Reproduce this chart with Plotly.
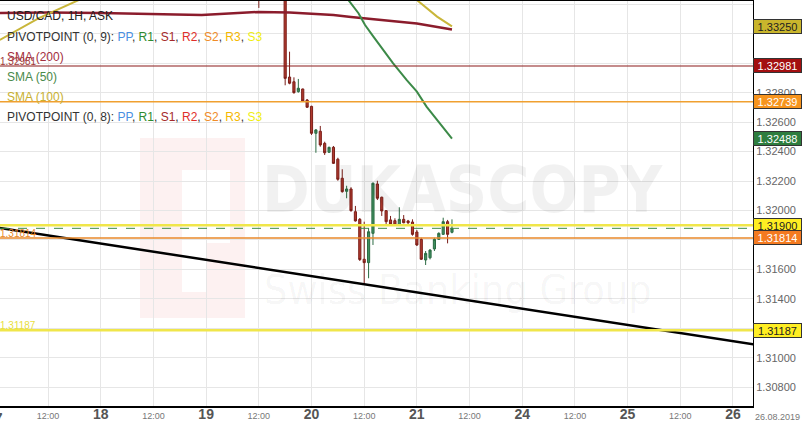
import plotly.graph_objects as go

# ---------------- data (x = hours relative to 20 Aug 00:00, weekend removed) ----------------
hours = [-12, -6, -5, -4, -3, -2, -1, 0, 1, 2, 3, 4, 5, 6, 7, 8, 9, 10, 11, 12, 13, 14, 15, 16,
         17, 18, 19, 20, 21, 22, 23, 24, 25, 26, 27, 28, 29, 30, 31, 32]
opens = [1.33560, 1.33500, 1.32906, 1.32874, 1.32807, 1.32825, 1.32750, 1.32707, 1.32524, 1.32538,
         1.32456, 1.32395, 1.32429, 1.32348, 1.32219, 1.32130, 1.32146, 1.31992, 1.31940, 1.31669,
         1.31646, 1.31845, 1.32180, 1.32090, 1.31999, 1.31936, 1.31931, 1.31900, 1.31940, 1.31929,
         1.31922, 1.31854, 1.31804, 1.31664, 1.31679, 1.31739, 1.31804, 1.31838, 1.31924, 1.31852]
highs = [1.33620, 1.33550, 1.33078, 1.32904, 1.32893, 1.32827, 1.32757, 1.32711, 1.32553, 1.32574,
         1.32467, 1.32433, 1.32438, 1.32358, 1.32280, 1.32168, 1.32158, 1.32031, 1.31949, 1.31924,
         1.31881, 1.32190, 1.32202, 1.32094, 1.32003, 1.31963, 1.31947, 1.32022, 1.31969, 1.31936,
         1.31940, 1.31868, 1.31815, 1.31725, 1.31738, 1.31815, 1.31852, 1.31951, 1.31936, 1.31940]
lows = [1.33375, 1.32850, 1.32857, 1.32793, 1.32800, 1.32739, 1.32696, 1.32513, 1.32392, 1.32433,
        1.32377, 1.32392, 1.32316, 1.32202, 1.32121, 1.32083, 1.31992, 1.31925, 1.31657, 1.31499,
        1.31540, 1.31766, 1.32071, 1.31963, 1.31902, 1.31900, 1.31897, 1.31895, 1.31913, 1.31908,
        1.31829, 1.31759, 1.31664, 1.31630, 1.31668, 1.31725, 1.31800, 1.31834, 1.31777, 1.31845]
closes = [1.33520, 1.32897, 1.32864, 1.32800, 1.32830, 1.32743, 1.32701, 1.32524, 1.32547, 1.32445,
          1.32392, 1.32429, 1.32320, 1.32212, 1.32128, 1.32146, 1.31999, 1.31929, 1.31667, 1.31646,
          1.31856, 1.32185, 1.32083, 1.31997, 1.31924, 1.31908, 1.31900, 1.31940, 1.31917, 1.31917,
          1.31838, 1.31766, 1.31669, 1.31709, 1.31731, 1.31804, 1.31845, 1.31924, 1.31838, 1.31879]

sma200_h = [-71, -60, -48, -37, -31, -25, -20, -12, -5, 0, 5, 9, 16, 24, 32]
sma200_v = [1.33341, 1.33344, 1.33341, 1.33337, 1.33331, 1.33327, 1.33334, 1.33348, 1.33344,
            1.33337, 1.33327, 1.33314, 1.33293, 1.33270, 1.33229]
sma100_h = [-71, -62, -53, -15, 24, 28.6, 32]
sma100_v = [1.33158, 1.33308, 1.33429, 1.33620, 1.33429, 1.33316, 1.33250]
sma50_h = [5, 8.4, 10.7, 12.2, 14.1, 16.4, 18.6, 21.7, 24, 26.2, 29.3, 32]
sma50_v = [1.33650, 1.33429, 1.33339, 1.33259, 1.33180, 1.33089, 1.32999, 1.32885, 1.32807,
           1.32705, 1.32592, 1.32488]

trend_h = [-72, 101]
trend_v = [1.31886, 1.31090]

pivot_levels = [1.32981, 1.32739, 1.31900, 1.31814, 1.31187]
pivot_colors = ["#8b1a1a", "#f0a030", "#f0e64a", "#e8892a", "#f0e64a"]
pivot_widths = [1.2, 1.5, 2.5, 1.5, 2.5]
left_label_idx = [0, 3, 4]
left_label_colors = ["#a33a3a", "#e8892a", "#e8e040"]

day_hours = [-72, -48, -24, 0, 24, 48, 72, 96]
day_labels = ["17", "18", "19", "20", "21", "24", "25", "26"]
date_label = "26.08.2019"

price_ticks = [1.308, 1.310, 1.312, 1.314, 1.316, 1.318, 1.320, 1.322, 1.324, 1.326, 1.328,
               1.330, 1.332, 1.334]

x_range = [-70.96, 100.57]
y_range = [1.306728, 1.334222]

# ---------------- figure ----------------
fig = go.Figure()

fig.add_trace(go.Candlestick(
    x=hours, open=opens, high=highs, low=lows, close=closes,
    increasing=dict(line=dict(color="#2b6b43", width=1), fillcolor="#3f8f5f"),
    decreasing=dict(line=dict(color="#7a1e18", width=1), fillcolor="#b0392e"),
    whiskerwidth=0, hoverinfo="skip", showlegend=False))

fig.add_trace(go.Scatter(x=sma200_h, y=sma200_v, mode="lines",
                         line=dict(color="#8b1c2c", width=2.5), hoverinfo="skip"))
fig.add_trace(go.Scatter(x=sma100_h, y=sma100_v, mode="lines",
                         line=dict(color="#c9b63a", width=2), hoverinfo="skip"))
fig.add_trace(go.Scatter(x=sma50_h, y=sma50_v, mode="lines",
                         line=dict(color="#3c8a48", width=2), hoverinfo="skip"))
fig.add_trace(go.Scatter(x=trend_h, y=trend_v, mode="lines",
                         line=dict(color="#000000", width=2.5), hoverinfo="skip"))

for lv, col, w in zip(pivot_levels, pivot_colors, pivot_widths):
    fig.add_hline(y=lv, line=dict(color=col, width=w))
fig.add_hline(y=closes[-1], line=dict(color="#3c8a48", width=1, dash="dash"))

# watermark
def px_x(p):
    return p / 753.0

def px_y(p):
    return (406.0 - p) / 405.0

fig.add_shape(type="rect", xref="paper", yref="paper", x0=px_x(140), x1=px_x(245),
              y0=px_y(318), y1=px_y(138), fillcolor="#fdf1f1", line=dict(width=0), layer="below")
fig.add_shape(type="rect", xref="paper", yref="paper", x0=px_x(182), x1=px_x(230),
              y0=px_y(243), y1=px_y(170), fillcolor="#ffffff", line=dict(width=0), layer="below")
fig.add_shape(type="rect", xref="paper", yref="paper", x0=px_x(182), x1=px_x(206),
              y0=px_y(292), y1=px_y(243), fillcolor="#ffffff", line=dict(width=0), layer="below")

fig.add_annotation(xref="paper", yref="paper", x=px_x(463), y=px_y(190), text="<b>DUKASCOPY</b>",
                   showarrow=False, xanchor="center", yanchor="middle",
                   font=dict(family="DejaVu Sans Condensed, Arial", size=64,
                             color="rgba(0,0,0,0.055)"))
fig.add_annotation(xref="paper", yref="paper", x=px_x(458), y=px_y(290), text="Swiss Banking Group",
                   showarrow=False, xanchor="center", yanchor="middle",
                   font=dict(family="DejaVu Sans Condensed, Arial", size=41,
                             color="rgba(0,0,0,0.045)"))

# legend text block (top left)
piv_parts = [("PP", "#4a90e2"), ("R1", "#2e8b2e"), ("S1", "#a52a2a"), ("R2", "#e0302a"),
             ("S2", "#f08c28"), ("R3", "#f5b800"), ("S3", "#f0ee10")]
piv_str = ", ".join(f'<span style="color:{c}">{t}</span>' for t, c in piv_parts)
legend_lines = [
    ("USD/CAD, 1H, ASK", "#222222", 16),
    ("PIVOTPOINT (0, 9): " + piv_str, "#333333", 37),
    ("SMA (200)", "#a33040", 57),
    ("SMA (50)", "#4a8a4a", 77),
    ("SMA (100)", "#c8b030", 97),
    ("PIVOTPOINT (0, 8): " + piv_str, "#333333", 117),
]
for txt, col, ypix in legend_lines:
    fig.add_annotation(xref="paper", yref="paper", x=0, y=px_y(ypix), text=txt, showarrow=False,
                       xanchor="left", yanchor="middle", xshift=5,
                       font=dict(family="Arial, Liberation Sans", size=12, color=col))

# left value labels on lines
for i, col in zip(left_label_idx, left_label_colors):
    fig.add_annotation(xref="paper", yref="y", x=0, y=pivot_levels[i], text=f"{pivot_levels[i]:.5f}",
                       showarrow=False, xanchor="left", yanchor="bottom", xshift=-2, yshift=-3,
                       font=dict(family="Arial, Liberation Sans", size=10, color=col))

# right axis value boxes
box_vals = [sma100_v[-1], pivot_levels[0], pivot_levels[1], sma50_v[-1], pivot_levels[2],
            pivot_levels[3], pivot_levels[4]]
box_bg = ["#c9b52c", "#a30f10", "#f7941d", "#2e7d3e", "#ffee22", "#f47a20", "#ffee22"]
box_fg = ["#222222", "#ffffff", "#ffffff", "#ffffff", "#222222", "#ffffff", "#222222"]
for v, bg, fg in zip(box_vals, box_bg, box_fg):
    fig.add_annotation(xref="paper", yref="y", x=1, y=v, text=f"{v:.5f}", showarrow=False,
                       xanchor="left", yanchor="middle", width=45, height=11, align="center",
                       bgcolor=bg, bordercolor="#333333", borderwidth=1, borderpad=1,
                       font=dict(family="Arial, Liberation Sans", size=11, color=fg))

# price tick labels: those hidden under a value box are left blank (gridline kept)
price_ticktext = ["" if any(abs(t - b) < 0.0006 for b in box_vals) else f"{t:.5f}"
                  for t in price_ticks]

# x tick labels
tickvals, ticktext = [], []
day_style = "font-size:14px;font-weight:bold;color:#555555;font-family:'Liberation Sans Narrow','Arial Narrow',Arial"
for i, (h, d) in enumerate(zip(day_hours, day_labels)):
    tickvals.append(h)
    ticktext.append(f'<span style="{day_style}">{d}</span>')
    if i < len(day_hours) - 1:
        tickvals.append(h + 12)
        ticktext.append("12:00")

fig.add_annotation(xref="paper", yref="paper",
                   x=(day_hours[0] - x_range[0]) / (x_range[1] - x_range[0]), y=0,
                   text=f'<span style="{day_style}">{day_labels[0]}</span>', showarrow=False,
                   xanchor="center", yanchor="top", yshift=-2,
                   font=dict(family="Arial", size=9, color="#777777"))
fig.add_annotation(xref="paper", yref="paper", x=1, y=0, text=date_label, showarrow=False,
                   xanchor="left", yanchor="top", xshift=0, yshift=-4,
                   font=dict(family="Arial, Liberation Sans", size=9, color="#777777"))

fig.update_layout(
    width=805, height=426,
    margin=dict(l=0, r=52, t=1, b=20),
    paper_bgcolor="white", plot_bgcolor="white",
    showlegend=False,
    xaxis=dict(range=x_range, tickvals=tickvals, ticktext=ticktext, showgrid=True,
               gridcolor="#e6e6e6", gridwidth=1, zeroline=False, showline=True,
               linecolor="#000000", linewidth=1.5, mirror=True, ticks="",
               rangeslider=dict(visible=False),
               tickfont=dict(family="Arial, Liberation Sans", size=9, color="#777777")),
    yaxis=dict(range=y_range, side="right", tickvals=price_ticks, ticktext=price_ticktext,
               showgrid=True, gridcolor="#e6e6e6", gridwidth=1, zeroline=False,
               showline=True, linecolor="#000000", linewidth=1, ticks="",
               tickfont=dict(family="Arial, Liberation Sans", size=11, color="#666666")),
)

fig.write_html("out.html", config={"displayModeBar": False})

# remove the default page margin so the figure sits at the window's top-left corner
with open("out.html", "r", encoding="utf-8") as f:
    html = f.read()
html = html.replace("<body>", '<body style="margin:0;padding:0;overflow:hidden">', 1)
with open("out.html", "w", encoding="utf-8") as f:
    f.write(html)
